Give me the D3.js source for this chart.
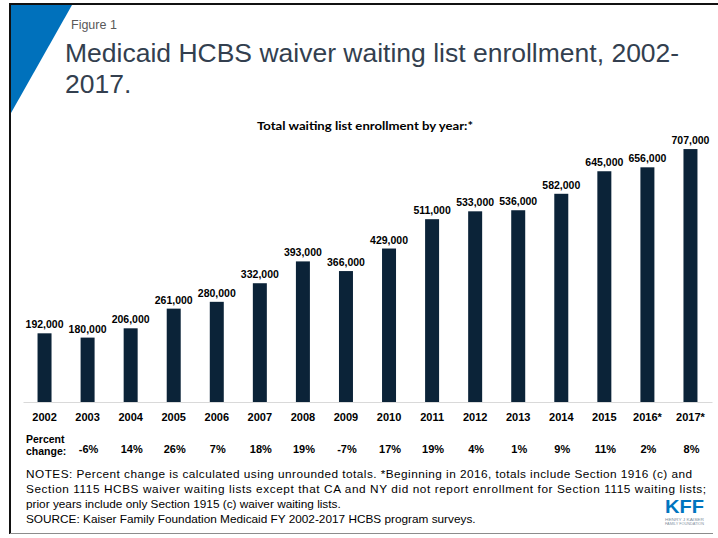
<!DOCTYPE html>
<html>
<head>
<meta charset="utf-8">
<script src="https://cdn.jsdelivr.net/npm/d3@7"></script>
<style>
  html, body { margin: 0; padding: 0; background: #fff; }
  svg { display: block; }
</style>
</head>
<body>
<svg id="chart" width="718" height="538"></svg>
<script>
const years = ["2002","2003","2004","2005","2006","2007","2008","2009","2010","2011","2012","2013","2014","2015","2016*","2017*"];
const enrollment = [192000,180000,206000,261000,280000,332000,393000,366000,429000,511000,533000,536000,582000,645000,656000,707000];
const pctChange = ["","-6%","14%","26%","7%","18%","19%","-7%","17%","19%","4%","1%","9%","11%","2%","8%"];
const titleLines = ["Medicaid HCBS waiver waiting list enrollment, 2002-","2017."];
const noteLines = [
  "NOTES:  Percent change is calculated using unrounded totals. *Beginning in 2016, totals include Section 1916 (c) and",
  "Section 1115 HCBS waiver waiting lists except that CA and NY did not report enrollment for Section 1115 waiting lists;",
  "prior years include only Section 1915 (c) waiver waiting lists.",
  "SOURCE: Kaiser Family Foundation Medicaid FY 2002-2017 HCBS program surveys."
];

const svg = d3.select("#chart");
const data = years.map((y, i) => ({year: y, value: enrollment[i], pct: pctChange[i]}));
const FONT = "Liberation Sans, Arial, sans-serif";

// frame
svg.append("line").attr("x1", 10).attr("x2", 718).attr("y1", 4).attr("y2", 4)
  .attr("stroke", "#111").attr("stroke-width", 2);
svg.append("line").attr("x1", 10).attr("x2", 10).attr("y1", 3).attr("y2", 534)
  .attr("stroke", "#111").attr("stroke-width", 2);
svg.append("line").attr("x1", 10).attr("x2", 713).attr("y1", 533.5).attr("y2", 533.5)
  .attr("stroke", "#8c8c8c").attr("stroke-width", 1);

// blue triangle
svg.append("path").attr("d", "M11,5L72,5L11,113Z").attr("fill", "#0071bc");

// titles
svg.append("text").attr("x", 71).attr("y", 29).text("Figure 1")
  .attr("font-family", FONT).attr("font-size", 12.5).attr("fill", "#595959");
svg.selectAll("text.title").data(titleLines).enter().append("text").attr("class", "title")
  .attr("x", 65).attr("y", (d, i) => 62 + i * 31).text(d => d)
  .attr("font-family", FONT).attr("font-size", 26.5).attr("fill", "#333f4f");

svg.append("text").attr("x", 257).attr("y", 129.5)
  .text("Total waiting list enrollment by year:*")
  .attr("font-family", "Lato, Carlito, sans-serif").attr("font-weight", "bold").attr("font-size", 12)
  .attr("fill", "#000").attr("textLength", 216).attr("lengthAdjust", "spacingAndGlyphs");

// scales
const x = d3.scaleBand().domain(years).range([23, 712]).paddingInner(0.675).paddingOuter(0.3375);
const y = d3.scaleLinear().domain([0, 800000]).range([402, 115.8]);

// bars
svg.selectAll("rect.bar").data(data).enter().append("rect").attr("class", "bar")
  .attr("x", d => x(d.year)).attr("width", x.bandwidth())
  .attr("y", d => y(d.value)).attr("height", d => y(0) - y(d.value))
  .attr("fill", "#0b2338");

// value labels
svg.selectAll("text.val").data(data).enter().append("text").attr("class", "val")
  .attr("x", d => x(d.year) + x.bandwidth() / 2).attr("y", d => y(d.value) - 5)
  .attr("text-anchor", "middle").text(d => d3.format(",")(d.value))
  .attr("font-family", FONT).attr("font-weight", "bold")
  .attr("font-size", 10.5).attr("fill", "#000");

// axis
const axis = svg.append("g").attr("transform", "translate(0,402)")
  .call(d3.axisBottom(x).tickSize(0).tickSizeOuter(0).tickPadding(11));
axis.select(".domain").attr("stroke", "#d9d9d9").attr("stroke-width", 1);
axis.selectAll("text").attr("font-family", FONT)
  .attr("font-weight", "bold").attr("font-size", 11).attr("fill", "#000");

// percent change row
svg.append("text").attr("x", 26).attr("y", 442.5).text("Percent")
  .attr("font-family", FONT).attr("font-weight", "bold").attr("font-size", 10.5);
svg.append("text").attr("x", 26).attr("y", 455).text("change:")
  .attr("font-family", FONT).attr("font-weight", "bold").attr("font-size", 10.5);
svg.selectAll("text.pct").data(data.filter(d => d.pct)).enter().append("text").attr("class", "pct")
  .attr("x", d => x(d.year) + x.bandwidth() / 2 + 1).attr("y", 453)
  .attr("text-anchor", "middle").text(d => d.pct)
  .attr("font-family", FONT).attr("font-weight", "bold")
  .attr("font-size", 11).attr("fill", "#000");

// notes (first two lines are justified in the reference)
const noteFit = [666, 680, null, null];
svg.selectAll("text.note").data(noteLines).enter().append("text").attr("class", "note")
  .attr("x", 26).attr("y", (d, i) => 478 + i * 15).text(d => d)
  .attr("font-family", FONT).attr("font-size", 11.8).attr("fill", "#000")
  .each(function(d, i) {
    if (noteFit[i]) d3.select(this).attr("textLength", noteFit[i]).attr("lengthAdjust", "spacing");
  });

// KFF logo
svg.append("text").attr("x", 665).attr("y", 513).text("KFF")
  .attr("font-family", "Liberation Sans Narrow, Liberation Sans, Arial, sans-serif").attr("font-weight", "bold")
  .attr("font-size", 19).attr("fill", "#0075bf").attr("textLength", 39).attr("lengthAdjust", "spacingAndGlyphs");
svg.append("text").attr("x", 665).attr("y", 520.5).text("HENRY J KAISER")
  .attr("font-family", FONT).attr("font-size", 4).attr("fill", "#7f8fa0")
  .attr("textLength", 39).attr("lengthAdjust", "spacingAndGlyphs");
svg.append("text").attr("x", 665).attr("y", 525).text("FAMILY FOUNDATION")
  .attr("font-family", FONT).attr("font-size", 4).attr("fill", "#7f8fa0")
  .attr("textLength", 39).attr("lengthAdjust", "spacingAndGlyphs");
</script>
</body>
</html>
